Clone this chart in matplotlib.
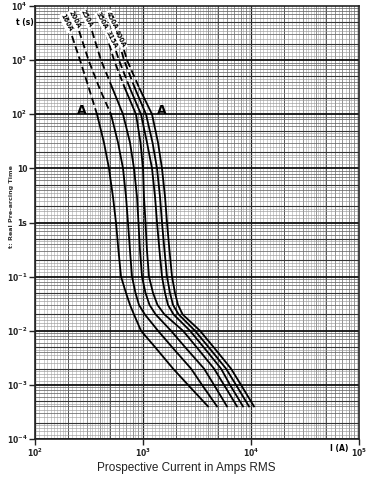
import numpy as np
import matplotlib
matplotlib.use("Agg")
import matplotlib.pyplot as plt

# ---------------- data ----------------
times = [1000, 300, 100, 30, 10, 3, 1, 0.3, 0.1, 0.05, 0.03, 0.02, 0.01, 0.005, 0.002, 0.001, 0.0004]
i_160 = [261, 316, 375, 435, 484, 527, 562, 593, 626, 696, 758, 825, 958, 1292, 1896, 2610, 3999]
i_200 = [313, 396, 505, 587, 653, 696, 726, 758, 791, 852, 918, 1040, 1377, 1856, 2783, 3518, 4845]
i_250 = [408, 522, 653, 758, 825, 880, 908, 938, 979, 1055, 1149, 1310, 1817, 2448, 3671, 4544, 5995]
i_315 = [539, 681, 861, 948, 1000, 1021, 1055, 1089, 1136, 1238, 1362, 1580, 2346, 3129, 4544, 5623, 7422]
i_350 = [599, 758, 958, 1089, 1212, 1292, 1348, 1422, 1499, 1599, 1704, 1920, 2724, 3633, 5275, 6391, 8433]
i_400 = [667, 843, 1066, 1225, 1348, 1437, 1499, 1582, 1668, 1778, 1896, 2140, 3030, 4042, 5869, 7264, 9583]
i_450 = [711, 928, 1212, 1377, 1499, 1599, 1668, 1760, 1856, 1979, 2109, 2330, 3372, 4496, 6528, 8079, 10660]
top_t = [2793, 3452, 3452, 3170, 1476, 3452, 1538]
top_i = [220, 256, 337, 454, 562, 562, 667]
dash_until = [100, 100, 300, 300, 300, 300, 300]  # dashed above this time (s)

# curve labels as printed on the chart (text, current, time)
label_text = ["160A", "200A", "250A", "350A", "315A", "450A", "400A"]
label_i = [194, 232, 303, 417, 516, 518, 613]
label_t = [4853, 5507, 5754, 5286, 2355, 5507, 2455]

ytick_vals = [1e4, 1e3, 1e2, 10, 1, 0.1, 0.01, 0.001, 0.0001]
ytick_labels = ["$\\mathbf{10^{4}}$", "$\\mathbf{10^{3}}$", "$\\mathbf{10^{2}}$", "10", "1s",
                "$\\mathbf{10^{-1}}$", "$\\mathbf{10^{-2}}$", "$\\mathbf{10^{-3}}$", "$\\mathbf{10^{-4}}$"]
xtick_vals = [1e2, 1e3, 1e4, 1e5]
xtick_labels = ["$\\mathbf{10^{2}}$", "$\\mathbf{10^{3}}$", "$\\mathbf{10^{4}}$", "$\\mathbf{10^{5}}$"]

# ---------------- figure ----------------
fig = plt.figure(figsize=(3.72, 4.8), dpi=100)
ax = fig.add_axes([35/372, 1-439/480, 324/372, 433/480])
ax.set_xscale("log")
ax.set_yscale("log")
ax.set_xlim(1e2, 1e5)
ax.set_ylim(1e-4, 1e4)

# graph-paper grid
for dec in range(2, 5):
    base = 10.0 ** dec
    subs = list(np.arange(1.1, 2.0, 0.1)) + list(np.arange(2.0, 5.0, 0.2)) + list(np.arange(5.0, 10.0, 0.5))
    for s in subs:
        x = base * s
        if abs(s - 2) < 1e-6 or abs(s - 5) < 1e-6:
            ax.axvline(x, color="#555555", lw=0.7, zorder=1)
        elif abs(s - round(s)) < 1e-6:
            ax.axvline(x, color="#777777", lw=0.55, zorder=1)
        else:
            ax.axvline(x, color="#aaaaaa", lw=0.4, zorder=1)
    ax.axvline(base, color="#222222", lw=0.9, zorder=1)
for dec in range(-4, 4):
    base = 10.0 ** dec
    subs = list(np.arange(1.2, 2.0, 0.2)) + list(np.arange(2.0, 5.0, 0.5)) + list(np.arange(5.0, 10.0, 1.0))
    for s in subs:
        y = base * s
        if abs(s - 5) < 1e-6 or abs(s - 2) < 1e-6:
            ax.axhline(y, color="#333333", lw=0.8, zorder=1)
        elif abs(s - round(s)) < 1e-6:
            ax.axhline(y, color="#666666", lw=0.55, zorder=1)
        else:
            ax.axhline(y, color="#999999", lw=0.45, zorder=1)
    ax.axhline(base, color="#111111", lw=1.3, zorder=1)

# curves
curves = [i_160, i_200, i_250, i_315, i_350, i_400, i_450]
for k, cur in enumerate(curves):
    t = np.array([top_t[k]] + times, dtype=float)
    i = np.array([top_i[k]] + cur, dtype=float)
    md = t >= dash_until[k]
    ms = t <= dash_until[k]
    ax.plot(i[md], t[md], color="black", lw=1.3, ls=(0, (4, 2)), zorder=3)
    ax.plot(i[ms], t[ms], color="black", lw=1.3, zorder=3, solid_joinstyle="round")

for txt, li, lt in zip(label_text, label_i, label_t):
    ax.text(li, lt, txt, rotation=-63, fontsize=4.8, fontweight="bold", ha="center", va="center",
            zorder=4, bbox=dict(boxstyle="square,pad=0.12", fc="white", ec="none"))

ax.text(272, 100, "A", fontsize=9, fontweight="bold", ha="center", va="baseline", zorder=4)
ax.text(1500, 100, "A", fontsize=9, fontweight="bold", ha="center", va="baseline", zorder=4)

# axes styling
for sp in ax.spines.values():
    sp.set_color("#222222")
    sp.set_linewidth(1.2)
ax.set_yticks(ytick_vals)
ax.set_yticklabels(ytick_labels, fontsize=5.5, fontweight="bold")
ax.set_yticks([], minor=True)
ax.set_xticks(xtick_vals)
ax.set_xticklabels(xtick_labels, fontsize=5.5, fontweight="bold")
ax.set_xticks([], minor=True)
ax.tick_params(axis="both", which="major", length=4, width=1.0, direction="out", pad=1.5, colors="#222222")
ax.text(-0.005, 5058, "t (s)", transform=ax.get_yaxis_transform(), fontsize=5.5,
        fontweight="bold", ha="right", va="center")
ax.text(0.968, -0.021, "I (A)", transform=ax.transAxes, fontsize=5.5, fontweight="bold",
        ha="right", va="center")
ax.set_ylabel("t: Real Pre-arcing Time", fontsize=4.6, fontweight="bold", color="#333333")
ax.yaxis.set_label_coords(-0.066, 0.536)

fig.text(186/372, 1-468/480, "Prospective Current in Amps RMS", fontsize=8.5,
         family="Liberation Sans", ha="center", va="center", color="#222222")

fig.savefig("out.png", dpi=100)
